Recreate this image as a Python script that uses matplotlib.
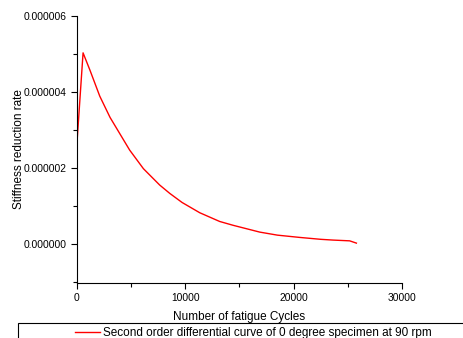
import matplotlib
matplotlib.use("Agg")
import matplotlib.pyplot as plt
from matplotlib.patches import Rectangle
from matplotlib.ticker import MultipleLocator, FuncFormatter

# values
cycles = [0, 560, 1200, 2100, 3050, 4860, 6130, 7630, 8560, 9700, 11330,
          13170, 14400, 16870, 18500, 20560, 22500, 23640, 25170, 25790]
rate = [2.67e-6, 5.03e-6, 4.57e-6, 3.89e-6, 3.33e-6, 2.47e-6, 1.98e-6, 1.55e-6,
        1.33e-6, 1.09e-6, 0.82e-6, 0.59e-6, 0.49e-6, 0.31e-6, 0.23e-6, 0.17e-6,
        0.12e-6, 0.10e-6, 0.08e-6, 0.02e-6]
series_label = "Second order differential curve of 0 degree specimen at 90 rpm"

plt.rcParams['font.family'] = ['Liberation Sans', 'DejaVu Sans']

fig = plt.figure(figsize=(4.64, 3.38), dpi=100)
ax = fig.add_axes([77 / 464, 1 - 283 / 338, 325 / 464, 267 / 338])

line, = ax.plot(cycles, rate, color='red', linewidth=1.0)

ax.set_xlim(0, 30000)
ax.set_ylim(-1.03e-6, 6e-6)
ax.xaxis.set_major_locator(MultipleLocator(10000))
ax.xaxis.set_minor_locator(MultipleLocator(5000))
ax.yaxis.set_major_locator(MultipleLocator(2e-6))
ax.yaxis.set_minor_locator(MultipleLocator(1e-6))
ax.yaxis.set_major_formatter(FuncFormatter(lambda v, p: f"{v:.6f}"))

for side in ('top', 'right'):
    ax.spines[side].set_visible(False)
ax.tick_params(which='both', direction='out', labelsize=7.4, width=0.8)
ax.tick_params(which='major', length=4)
ax.tick_params(which='minor', length=3)

ax.set_xlabel('Number of fatigue Cycles', fontsize=8.5, labelpad=5.5)
ax.set_ylabel('Stiffness reduction rate', fontsize=8.5, labelpad=-1.0)

# legend box running off the bottom/right of the image
fig.add_artist(Rectangle((18 / 464, -0.05), 1.0, 1 - 323 / 338 + 0.05,
                         transform=fig.transFigure, fill=False,
                         edgecolor='black', linewidth=0.8))
fig.legend([line], [series_label], loc='center left', frameon=False,
           bbox_to_anchor=(75 / 464, 1 - 333 / 338), fontsize=8.5,
           handlelength=2.1, handletextpad=0.25, borderpad=0, borderaxespad=0)

fig.savefig('out.png', dpi=100)
